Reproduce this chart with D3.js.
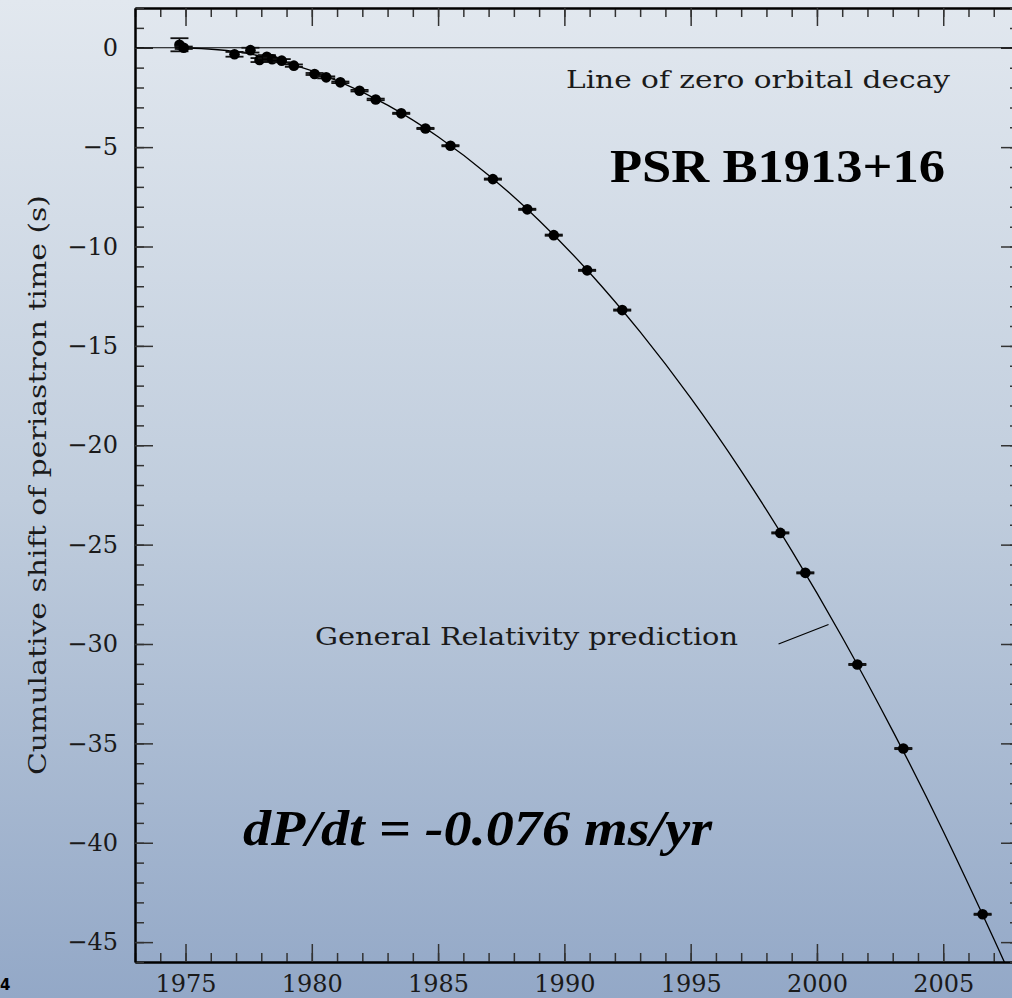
<!DOCTYPE html>
<html>
<head>
<meta charset="utf-8">
<script src="https://cdn.jsdelivr.net/npm/d3@7"></script>
<style>
  html, body { margin: 0; padding: 0; overflow: hidden; }
  svg { display: block; }
</style>
</head>
<body>
<div id="chart"></div>
<script>
// Measured periastron epochs (year) and cumulative shift (s)
const epochs = [1974.76, 1974.93, 1976.94, 1977.57, 1977.93, 1978.22, 1978.43, 1978.81, 1979.29,
  1980.11, 1980.57, 1981.13, 1981.89, 1982.53, 1983.54, 1984.50, 1985.49, 1987.17, 1988.53,
  1989.58, 1990.90, 1992.29, 1998.55, 1999.54, 2001.60, 2003.42, 2006.56];
const shifts = [0.15, 0.0, -0.33, -0.12, -0.62, -0.45, -0.58, -0.65, -0.90,
  -1.32, -1.49, -1.74, -2.16, -2.60, -3.30, -4.06, -4.93, -6.61, -8.13,
  -9.43, -11.20, -13.20, -24.41, -26.42, -31.03, -35.26, -43.60];
const shiftErr = [0.33, 0.06, 0.12, 0.12, 0.10, 0.08, 0.08, 0.08, 0.06,
  0.05, 0.05, 0.04, 0.04, 0.04, 0.03, 0.03, 0.03, 0.03, 0.03,
  0.03, 0.03, 0.03, 0.03, 0.03, 0.03, 0.03, 0.03];

// General Relativity prediction
const curveYears  = [1975, 1977, 1979, 1981, 1983, 1985, 1987, 1989, 1991,
  1993, 1995, 1997, 1999, 2001, 2003, 2005, 2007, 2008];
const curveShifts = [0, -0.20, -0.75, -1.65, -2.89, -4.48, -6.41, -8.69, -11.32,
  -14.30, -17.62, -21.29, -25.30, -29.66, -34.37, -39.42, -44.83, -47.66];

// Tick values
const xMajorTicks = [1975, 1980, 1985, 1990, 1995, 2000, 2005];
const yMajorTicks = [0, -5, -10, -15, -20, -25, -30, -35, -40, -45];

const W = 1012, H = 998;
// plot box; the right edge sits just outside the picture
const box = { left: 135, right: 1019, top: 8, bottom: 962 };

// stand-in for the plotting package's thin roman font
const plotFont = '"DejaVu Serif", serif';

const svg = d3.select('#chart').append('svg')
  .attr('width', W).attr('height', H);

// slide background
const defs = svg.append('defs');
const grad = defs.append('linearGradient')
  .attr('id', 'bg').attr('x1', 0).attr('y1', 0).attr('x2', 0).attr('y2', 1);
grad.append('stop').attr('offset', '0%').attr('stop-color', '#e2e8ef');
grad.append('stop').attr('offset', '50%').attr('stop-color', '#c0cddd');
grad.append('stop').attr('offset', '100%').attr('stop-color', '#93a8c7');
defs.append('clipPath').attr('id', 'plotClip')
  .append('rect')
  .attr('x', box.left).attr('y', box.top)
  .attr('width', box.right - box.left).attr('height', box.bottom - box.top);

svg.append('rect').attr('width', W).attr('height', H).attr('fill', 'url(#bg)');

const x = d3.scaleLinear().domain([1973, 2008]).range([box.left, box.right]);
const y = d3.scaleLinear().domain([2, -46]).range([box.top, box.bottom]);

// --- axes: ticks point inward on all four sides ---
function styleAxis(g, labels) {
  g.selectAll('.tick line').attr('stroke', '#333').attr('stroke-width', 1.5);
  g.select('.domain').attr('stroke', '#000').attr('stroke-width', 2);
  g.selectAll('text')
    .attr('fill', '#1a1a1a')
    .style('font-family', plotFont)
    .style('font-size', '24px')
    .style('font-weight', 'normal');
  if (!labels) g.selectAll('text').remove();
}

const minorYears = d3.range(1973, 2009);
const minorShift = d3.range(-46, 3);

// bottom
svg.append('g').attr('transform', `translate(0,${box.bottom})`)
  .call(d3.axisBottom(x).tickValues(minorYears).tickSizeInner(-9).tickSizeOuter(0).tickFormat(''))
  .call(g => styleAxis(g, false));
svg.append('g').attr('transform', `translate(0,${box.bottom})`)
  .call(d3.axisBottom(x).tickValues(xMajorTicks).tickSizeInner(-18).tickSizeOuter(0)
    .tickPadding(13).tickFormat(d3.format('d')))
  .call(g => styleAxis(g, true));
// top
svg.append('g').attr('transform', `translate(0,${box.top})`)
  .call(d3.axisTop(x).tickValues(minorYears).tickSizeInner(-9).tickSizeOuter(0).tickFormat(''))
  .call(g => styleAxis(g, false));
svg.append('g').attr('transform', `translate(0,${box.top})`)
  .call(d3.axisTop(x).tickValues(xMajorTicks).tickSizeInner(-18).tickSizeOuter(0).tickFormat(''))
  .call(g => styleAxis(g, false));
// left
svg.append('g').attr('transform', `translate(${box.left},0)`)
  .call(d3.axisLeft(y).tickValues(minorShift).tickSizeInner(-9).tickSizeOuter(0).tickFormat(''))
  .call(g => styleAxis(g, false));
svg.append('g').attr('transform', `translate(${box.left},0)`)
  .call(d3.axisLeft(y).tickValues(yMajorTicks).tickSizeInner(-18).tickSizeOuter(0)
    .tickPadding(17).tickFormat(d3.format('d')))
  .call(g => styleAxis(g, true));
// right
svg.append('g').attr('transform', `translate(${box.right},0)`)
  .call(d3.axisRight(y).tickValues(minorShift).tickSizeInner(-9).tickSizeOuter(0).tickFormat(''))
  .call(g => styleAxis(g, false));
svg.append('g').attr('transform', `translate(${box.right},0)`)
  .call(d3.axisRight(y).tickValues(yMajorTicks).tickSizeInner(-18).tickSizeOuter(0).tickFormat(''))
  .call(g => styleAxis(g, false));

// y axis title, centred near -22 s as in the original slide
svg.append('text')
  .attr('transform', `translate(46,${y(-22)}) rotate(-90)`)
  .attr('text-anchor', 'middle')
  .attr('textLength', 580).attr('lengthAdjust', 'spacingAndGlyphs')
  .style('font-family', plotFont).style('font-size', '25px').attr('fill', '#1a1a1a')
  .text('Cumulative shift of periastron time (s)');

const plot = svg.append('g').attr('clip-path', 'url(#plotClip)');

// line of zero orbital decay
plot.append('line')
  .attr('x1', box.left).attr('x2', box.right)
  .attr('y1', y(0)).attr('y2', y(0))
  .attr('stroke', '#000').attr('stroke-width', 1.2);

// GR prediction curve
const curve = curveYears.map((yr, i) => [yr, curveShifts[i]]);
plot.append('path')
  .datum(curve)
  .attr('fill', 'none').attr('stroke', '#000').attr('stroke-width', 1.3)
  .attr('d', d3.line().x(d => x(d[0])).y(d => y(d[1])).curve(d3.curveNatural));

// data points with error bars
const pts = epochs.map((yr, i) => ({ yr, s: shifts[i], e: shiftErr[i] }));
const capW = 9;
const pg = plot.append('g').selectAll('g').data(pts).join('g');
pg.append('line')
  .attr('x1', d => x(d.yr)).attr('x2', d => x(d.yr))
  .attr('y1', d => y(d.s + d.e)).attr('y2', d => y(d.s - d.e))
  .attr('stroke', '#000').attr('stroke-width', 1.5);
pg.append('line')
  .attr('x1', d => x(d.yr) - capW).attr('x2', d => x(d.yr) + capW)
  .attr('y1', d => y(d.s + d.e)).attr('y2', d => y(d.s + d.e))
  .attr('stroke', '#111').attr('stroke-width', 1.8);
pg.append('line')
  .attr('x1', d => x(d.yr) - capW).attr('x2', d => x(d.yr) + capW)
  .attr('y1', d => y(d.s - d.e)).attr('y2', d => y(d.s - d.e))
  .attr('stroke', '#111').attr('stroke-width', 1.8);
pg.append('circle')
  .attr('cx', d => x(d.yr)).attr('cy', d => y(d.s))
  .attr('r', 5.3).attr('fill', '#000');

// annotations
svg.append('text')
  .attr('x', 566).attr('y', 88)
  .attr('textLength', 384).attr('lengthAdjust', 'spacingAndGlyphs')
  .style('font-family', plotFont).style('font-size', '24px').attr('fill', '#1a1a1a')
  .text('Line of zero orbital decay');

svg.append('text')
  .attr('x', 315).attr('y', 645)
  .attr('textLength', 423).attr('lengthAdjust', 'spacingAndGlyphs')
  .style('font-family', plotFont).style('font-size', '24px').attr('fill', '#1a1a1a')
  .text('General Relativity prediction');

svg.append('line')
  .attr('x1', x(1998.48)).attr('y1', y(-30.0))
  .attr('x2', x(2000.46)).attr('y2', y(-29.02))
  .attr('stroke', '#000').attr('stroke-width', 1.2);

svg.append('text')
  .attr('x', 610).attr('y', 182)
  .attr('textLength', 335).attr('lengthAdjust', 'spacingAndGlyphs')
  .style('font-family', '"Liberation Serif", serif')
  .style('font-size', '46px').style('font-weight', 'bold')
  .attr('fill', '#000')
  .text('PSR B1913+16');

svg.append('text')
  .attr('x', 243).attr('y', 845)
  .attr('textLength', 469).attr('lengthAdjust', 'spacingAndGlyphs')
  .style('font-family', '"Liberation Serif", serif')
  .style('font-size', '50px').style('font-weight', 'bold').style('font-style', 'italic')
  .attr('fill', '#000')
  .text('dP/dt = -0.076 ms/yr');

// slide number
svg.append('text')
  .attr('x', 0).attr('y', 990)
  .style('font-family', '"DejaVu Sans", sans-serif')
  .style('font-size', '15px').style('font-weight', 'bold')
  .attr('fill', '#000')
  .text('4');
</script>
</body>
</html>
